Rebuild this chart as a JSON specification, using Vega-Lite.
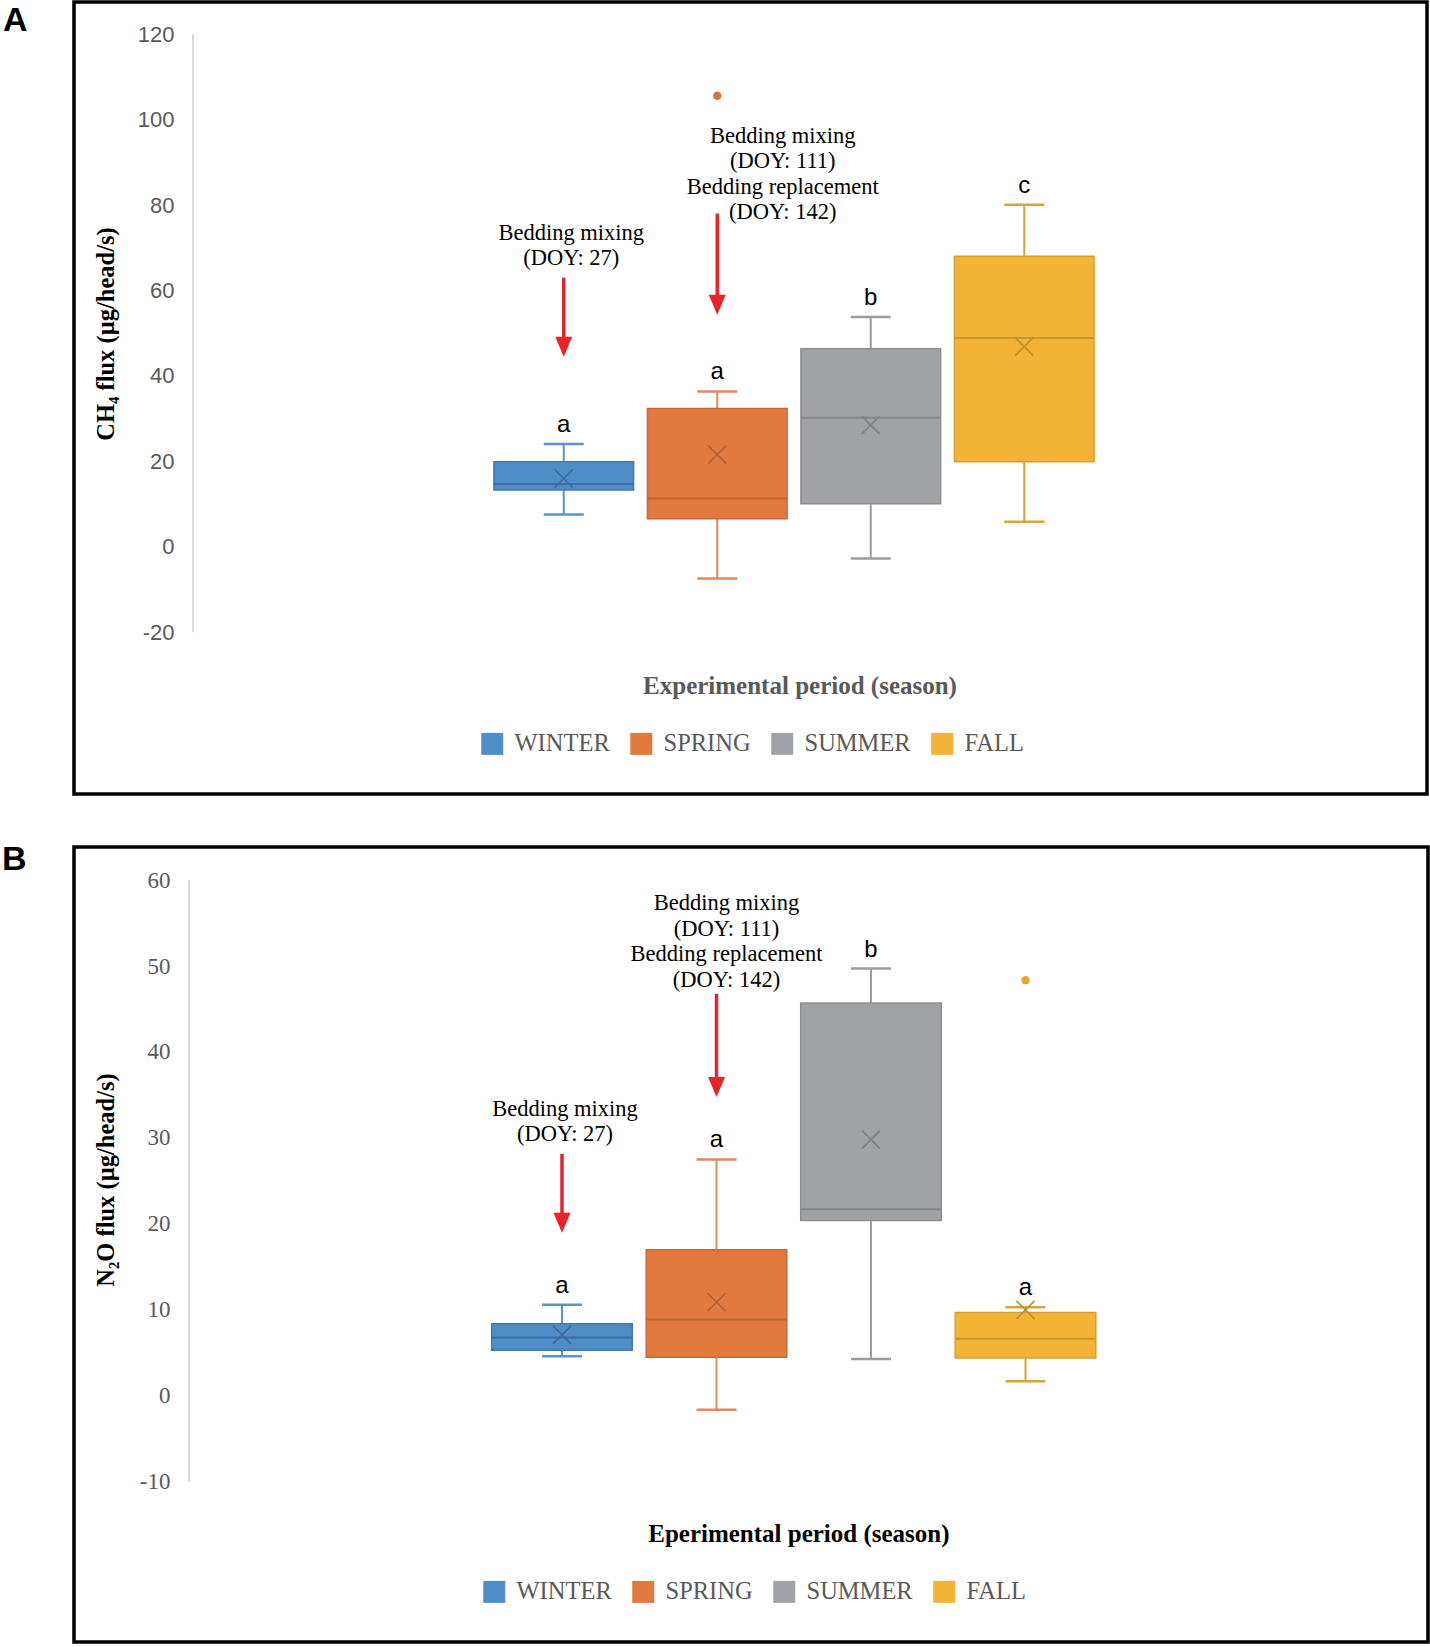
{
  "$schema": "https://vega.github.io/schema/vega-lite/v6.json",
  "background": "white",
  "padding": {"left": 0, "top": 0, "right": 4, "bottom": 0},
  "autosize": {"type": "pad"},
  "spacing": 44,
  "config": {"view": {"stroke": "black", "strokeWidth": 3.5}},
  "resolve": {"scale": {"color": "independent", "fill": "independent", "stroke": "independent"}, "legend": {"color": "independent"}},
  "datasets": {
    "boxA": [
      {"season": "WINTER", "min": 7.6, "q1": 13.3, "median": 14.7, "q3": 19.9, "max": 24.1, "mean": 16.0, "letter": "a"},
      {"season": "SPRING", "min": -7.4, "q1": 6.6, "median": 11.3, "q3": 32.4, "max": 36.4, "mean": 21.6, "letter": "a"},
      {"season": "SUMMER", "min": -2.7, "q1": 10.1, "median": 30.2, "q3": 46.4, "max": 53.8, "mean": 28.5, "letter": "b"},
      {"season": "FALL", "min": 5.9, "q1": 19.9, "median": 48.9, "q3": 68.0, "max": 80.1, "mean": 46.9, "letter": "c"}
    ],
    "outA": [{"season": "SPRING", "value": 105.6}],
    "annA": [
      {"season": "WINTER", "text": "Bedding mixing\n(DOY: 27)", "textY": 73.5, "arrowFrom": 63.0, "arrowTo": 45.45},
      {"season": "SPRING", "text": "Bedding mixing\n(DOY: 111)\nBedding replacement\n(DOY: 142)", "textY": 96.15, "arrowFrom": 78.0, "arrowTo": 55.3}
    ],
    "boxB": [
      {"season": "WINTER", "min": 4.6, "q1": 5.3, "median": 6.8, "q3": 8.4, "max": 10.6, "mean": 7.1, "letter": "a"},
      {"season": "SPRING", "min": -1.6, "q1": 4.5, "median": 8.9, "q3": 17.0, "max": 27.5, "mean": 10.9, "letter": "a"},
      {"season": "SUMMER", "min": 4.3, "q1": 20.4, "median": 21.7, "q3": 45.7, "max": 49.7, "mean": 29.8, "letter": "b"},
      {"season": "FALL", "min": 1.7, "q1": 4.4, "median": 6.65, "q3": 9.7, "max": 10.3, "mean": 10.0, "letter": "a"}
    ],
    "outB": [{"season": "FALL", "value": 48.35}],
    "annB": [
      {"season": "WINTER", "text": "Bedding mixing\n(DOY: 27)", "textY": 33.4, "arrowFrom": 28.15, "arrowTo": 19.44},
      {"season": "SPRING", "text": "Bedding mixing\n(DOY: 111)\nBedding replacement\n(DOY: 142)", "textY": 57.3, "arrowFrom": 46.76, "arrowTo": 35.23}
    ],
    "panelA": [{"panel": "A"}],
    "panelB": [{"panel": "B"}]
  },
  "vconcat": [
    {
      "width": 1353,
      "height": 792,
      "resolve": {"scale": {"x": "independent"}, "axis": {"x": "independent"}},
      "layer": [
        {
          "encoding": {
            "x": {
              "field": "season", "type": "nominal",
              "scale": {"domain": ["WINTER", "SPRING", "SUMMER", "FALL"], "range": [413, 1027], "paddingInner": 0, "paddingOuter": 0},
              "axis": {"title": "Experimental period (season)", "labels": false, "ticks": false, "domain": false, "grid": false, "titleFont": "Liberation Serif", "titleFontSize": 25, "titleFontWeight": "bold", "titleColor": "#595959", "titleX": 725.5, "titleY": -108.5, "titleAlign": "center", "titleBaseline": "middle"}
            }
          },
          "resolve": {"scale": {"fill": "independent", "stroke": "independent"}},
          "layer": [
            {
              "data": {"name": "boxA"},
              "mark": {"type": "rule", "strokeWidth": 2},
              "encoding": {
                "y": {
                  "field": "min", "type": "quantitative",
                  "scale": {"domain": [-57.84, 127.54], "nice": false, "zero": false},
                  "axis": {"values": [-20, 0, 20, 40, 60, 80, 100, 120], "offset": -119, "domain": false, "ticks": false, "grid": false, "labelPadding": 19, "labelFont": "Liberation Sans", "labelFontSize": 22, "labelColor": "#595959", "labelExpr": "'' + datum.value", "labelFlush": false, "labelOverlap": false, "labelBound": false, "title": "CH₄ flux (µg/head/s)", "titleFont": "Liberation Serif", "titleFontWeight": "bold", "titleFontSize": 24.5, "titleColor": "black", "titleAngle": -90, "titleX": -87, "titleY": 331.5, "titleAlign": "center", "titleBaseline": "middle"}
                },
                "y2": {"field": "max"},
                "stroke": {"field": "season", "type": "nominal", "scale": {"domain": ["WINTER", "SPRING", "SUMMER", "FALL"], "range": ["#5B92CB", "#DE8A5E", "#9B9CA0", "#D5A43C"]}, "legend": null}
              }
            },
            {
              "data": {"name": "boxA"},
              "mark": {"type": "bar", "width": {"band": 0.91}, "strokeWidth": 1.5, "opacity": 1},
              "encoding": {
                "y": {"field": "q1", "type": "quantitative", "scale": {"domain": [-57.84, 127.54], "nice": false, "zero": false}},
                "y2": {"field": "q3"},
                "color": {
                  "field": "season", "type": "nominal",
                  "scale": {"domain": ["WINTER", "SPRING", "SUMMER", "FALL"], "range": ["#4E8DC8", "#E2793F", "#A1A2A6", "#F2B336"]},
                  "legend": {"orient": "none", "legendX": 406, "legendY": 729.5, "direction": "horizontal", "title": null, "symbolType": "square", "symbolSize": 484, "symbolStrokeWidth": 0, "labelFont": "Liberation Serif", "labelFontSize": 24.5, "labelColor": "#595959", "labelOffset": 10, "columnPadding": 19}
                },
                "stroke": {"field": "season", "type": "nominal", "scale": {"domain": ["WINTER", "SPRING", "SUMMER", "FALL"], "range": ["#4677AD", "#C86A38", "#8D8E92", "#D8A033"]}, "legend": null}
              }
            },
            {
              "data": {"name": "boxA"},
              "mark": {"type": "tick", "orient": "horizontal", "size": 139, "thickness": 2, "opacity": 1},
              "encoding": {
                "y": {"field": "median", "type": "quantitative", "scale": {"domain": [-57.84, 127.54], "nice": false, "zero": false}},
                "fill": {"field": "season", "type": "nominal", "scale": {"domain": ["WINTER", "SPRING", "SUMMER", "FALL"], "range": ["#3F6CA0", "#BC6434", "#86878B", "#C99731"]}, "legend": null}
              }
            },
            {
              "data": {"name": "boxA"},
              "mark": {"type": "tick", "orient": "horizontal", "size": 40, "thickness": 2.5, "opacity": 1},
              "encoding": {
                "y": {"field": "max", "type": "quantitative", "scale": {"domain": [-57.84, 127.54], "nice": false, "zero": false}},
                "fill": {"field": "season", "type": "nominal", "scale": {"domain": ["WINTER", "SPRING", "SUMMER", "FALL"], "range": ["#5B92CB", "#DE8A5E", "#9B9CA0", "#D5A43C"]}, "legend": null}
              }
            },
            {
              "data": {"name": "boxA"},
              "mark": {"type": "tick", "orient": "horizontal", "size": 40, "thickness": 2.5, "opacity": 1},
              "encoding": {
                "y": {"field": "min", "type": "quantitative", "scale": {"domain": [-57.84, 127.54], "nice": false, "zero": false}},
                "fill": {"field": "season", "type": "nominal", "scale": {"domain": ["WINTER", "SPRING", "SUMMER", "FALL"], "range": ["#5B92CB", "#DE8A5E", "#9B9CA0", "#D5A43C"]}, "legend": null}
              }
            },
            {
              "data": {"name": "boxA"},
              "mark": {"type": "point", "shape": "M-1,-1L1,1M1,-1L-1,1", "size": 324, "strokeWidth": 1.6, "filled": false, "opacity": 1},
              "encoding": {
                "y": {"field": "mean", "type": "quantitative", "scale": {"domain": [-57.84, 127.54], "nice": false, "zero": false}},
                "stroke": {"field": "season", "type": "nominal", "scale": {"domain": ["WINTER", "SPRING", "SUMMER", "FALL"], "range": ["#3E6A9C", "#B2623A", "#7F8084", "#B98F2E"]}, "legend": null}
              }
            },
            {
              "data": {"name": "outA"},
              "mark": {"type": "point", "shape": "circle", "size": 70, "filled": true, "opacity": 1, "strokeWidth": 0},
              "encoding": {
                "y": {"field": "value", "type": "quantitative", "scale": {"domain": [-57.84, 127.54], "nice": false, "zero": false}},
                "fill": {"field": "season", "type": "nominal", "scale": {"domain": ["WINTER", "SPRING", "SUMMER", "FALL"], "range": ["#4E8DC8", "#D8743F", "#9FA0A4", "#E5A62D"]}, "legend": null}
              }
            },
            {
              "data": {"name": "boxA"},
              "mark": {"type": "text", "baseline": "alphabetic", "dy": -12, "font": "Liberation Sans", "fontSize": 24, "color": "black"},
              "encoding": {
                "y": {"field": "max", "type": "quantitative", "scale": {"domain": [-57.84, 127.54], "nice": false, "zero": false}},
                "text": {"field": "letter"}
              }
            },
            {
              "data": {"name": "annA"},
              "transform": [{"filter": "datum.season === 'WINTER'"}],
              "mark": {"type": "text", "lineBreak": "\n", "dx": 7.5, "baseline": "middle", "font": "Liberation Serif", "fontSize": 22.5, "lineHeight": 25.3, "color": "black"},
              "encoding": {
                "y": {"field": "textY", "type": "quantitative", "scale": {"domain": [-57.84, 127.54], "nice": false, "zero": false}},
                "text": {"field": "text"}
              }
            },
            {
              "data": {"name": "annA"},
              "transform": [{"filter": "datum.season === 'SPRING'"}],
              "mark": {"type": "text", "lineBreak": "\n", "dx": 65.5, "baseline": "middle", "font": "Liberation Serif", "fontSize": 22.5, "lineHeight": 25.3, "color": "black"},
              "encoding": {
                "y": {"field": "textY", "type": "quantitative", "scale": {"domain": [-57.84, 127.54], "nice": false, "zero": false}},
                "text": {"field": "text"}
              }
            },
            {
              "data": {"name": "annA"},
              "mark": {"type": "rule", "color": "#E8232A", "strokeWidth": 3.5},
              "encoding": {
                "y": {"field": "arrowFrom", "type": "quantitative", "scale": {"domain": [-57.84, 127.54], "nice": false, "zero": false}},
                "y2": {"field": "arrowTo"}
              }
            },
            {
              "data": {"name": "annA"},
              "mark": {"type": "point", "shape": "M0,0.4L-0.85,-1.6L0.85,-1.6Z", "size": 400, "filled": true, "color": "#E8232A", "opacity": 1, "strokeWidth": 0},
              "encoding": {
                "y": {"field": "arrowTo", "type": "quantitative", "scale": {"domain": [-57.84, 127.54], "nice": false, "zero": false}}
              }
            }
          ]
        },
        {
          "data": {"name": "panelA"},
          "layer": [
            {
              "mark": {"type": "rule", "color": "#D9D9D9", "strokeWidth": 2},
              "encoding": {
                "x": {"datum": 0, "type": "quantitative", "scale": {"domain": [-119, 1234], "nice": false, "zero": false}, "axis": null},
                "y": {"datum": -20, "type": "quantitative", "scale": {"domain": [-57.84, 127.54], "nice": false, "zero": false}},
                "y2": {"datum": 120}
              }
            },
            {
              "mark": {"type": "text", "text": "A", "align": "left", "baseline": "alphabetic", "dx": -190, "dy": -3.2, "font": "Liberation Sans Narrow, Liberation Sans", "fontWeight": "bold", "fontSize": 34, "color": "black"},
              "encoding": {
                "x": {"datum": 0, "type": "quantitative", "scale": {"domain": [-119, 1234], "nice": false, "zero": false}, "axis": null},
                "y": {"datum": 120, "type": "quantitative", "scale": {"domain": [-57.84, 127.54], "nice": false, "zero": false}}
              }
            }
          ]
        }
      ]
    },
    {
      "width": 1354,
      "height": 795,
      "resolve": {"scale": {"x": "independent"}, "axis": {"x": "independent"}},
      "layer": [
        {
          "encoding": {
            "x": {
              "field": "season", "type": "nominal",
              "scale": {"domain": ["WINTER", "SPRING", "SUMMER", "FALL"], "range": [410.75, 1028.75], "paddingInner": 0, "paddingOuter": 0},
              "axis": {"title": "Eperimental period (season)", "labels": false, "ticks": false, "domain": false, "grid": false, "titleFont": "Liberation Serif", "titleFontSize": 25, "titleFontWeight": "bold", "titleColor": "black", "titleX": 724.4, "titleY": -108.5, "titleAlign": "center", "titleBaseline": "middle"}
            }
          },
          "resolve": {"scale": {"fill": "independent", "stroke": "independent"}},
          "layer": [
            {
              "data": {"name": "boxB"},
              "mark": {"type": "rule", "strokeWidth": 2},
              "encoding": {
                "y": {
                  "field": "min", "type": "quantitative",
                  "scale": {"domain": [-28.62, 63.84], "nice": false, "zero": false},
                  "axis": {"values": [-10, 0, 10, 20, 30, 40, 50, 60], "offset": -115, "domain": false, "ticks": false, "grid": false, "labelPadding": 19, "labelFont": "Liberation Serif", "labelFontSize": 23, "labelColor": "#595959", "labelExpr": "'' + datum.value", "labelFlush": false, "labelOverlap": false, "labelBound": false, "title": "N₂O flux (µg/head/s)", "titleFont": "Liberation Serif", "titleFontWeight": "bold", "titleFontSize": 24.5, "titleColor": "black", "titleAngle": -90, "titleX": -83, "titleY": 332.5, "titleAlign": "center", "titleBaseline": "middle"}
                },
                "y2": {"field": "max"},
                "stroke": {"field": "season", "type": "nominal", "scale": {"domain": ["WINTER", "SPRING", "SUMMER", "FALL"], "range": ["#5B92CB", "#DE8A5E", "#9B9CA0", "#D5A43C"]}, "legend": null}
              }
            },
            {
              "data": {"name": "boxB"},
              "mark": {"type": "bar", "width": {"band": 0.91}, "strokeWidth": 1.5, "opacity": 1},
              "encoding": {
                "y": {"field": "q1", "type": "quantitative", "scale": {"domain": [-28.62, 63.84], "nice": false, "zero": false}},
                "y2": {"field": "q3"},
                "color": {
                  "field": "season", "type": "nominal",
                  "scale": {"domain": ["WINTER", "SPRING", "SUMMER", "FALL"], "range": ["#4E8DC8", "#E2793F", "#A1A2A6", "#F2B336"]},
                  "legend": {"orient": "none", "legendX": 408, "legendY": 732.5, "direction": "horizontal", "title": null, "symbolType": "square", "symbolSize": 484, "symbolStrokeWidth": 0, "labelFont": "Liberation Serif", "labelFontSize": 24.5, "labelColor": "#595959", "labelOffset": 10, "columnPadding": 19}
                },
                "stroke": {"field": "season", "type": "nominal", "scale": {"domain": ["WINTER", "SPRING", "SUMMER", "FALL"], "range": ["#4677AD", "#C86A38", "#8D8E92", "#D8A033"]}, "legend": null}
              }
            },
            {
              "data": {"name": "boxB"},
              "mark": {"type": "tick", "orient": "horizontal", "size": 140, "thickness": 2, "opacity": 1},
              "encoding": {
                "y": {"field": "median", "type": "quantitative", "scale": {"domain": [-28.62, 63.84], "nice": false, "zero": false}},
                "fill": {"field": "season", "type": "nominal", "scale": {"domain": ["WINTER", "SPRING", "SUMMER", "FALL"], "range": ["#3F6CA0", "#BC6434", "#86878B", "#C99731"]}, "legend": null}
              }
            },
            {
              "data": {"name": "boxB"},
              "mark": {"type": "tick", "orient": "horizontal", "size": 40, "thickness": 2.5, "opacity": 1},
              "encoding": {
                "y": {"field": "max", "type": "quantitative", "scale": {"domain": [-28.62, 63.84], "nice": false, "zero": false}},
                "fill": {"field": "season", "type": "nominal", "scale": {"domain": ["WINTER", "SPRING", "SUMMER", "FALL"], "range": ["#5B92CB", "#DE8A5E", "#9B9CA0", "#D5A43C"]}, "legend": null}
              }
            },
            {
              "data": {"name": "boxB"},
              "mark": {"type": "tick", "orient": "horizontal", "size": 40, "thickness": 2.5, "opacity": 1},
              "encoding": {
                "y": {"field": "min", "type": "quantitative", "scale": {"domain": [-28.62, 63.84], "nice": false, "zero": false}},
                "fill": {"field": "season", "type": "nominal", "scale": {"domain": ["WINTER", "SPRING", "SUMMER", "FALL"], "range": ["#5B92CB", "#DE8A5E", "#9B9CA0", "#D5A43C"]}, "legend": null}
              }
            },
            {
              "data": {"name": "boxB"},
              "mark": {"type": "point", "shape": "M-1,-1L1,1M1,-1L-1,1", "size": 324, "strokeWidth": 1.6, "filled": false, "opacity": 1},
              "encoding": {
                "y": {"field": "mean", "type": "quantitative", "scale": {"domain": [-28.62, 63.84], "nice": false, "zero": false}},
                "stroke": {"field": "season", "type": "nominal", "scale": {"domain": ["WINTER", "SPRING", "SUMMER", "FALL"], "range": ["#3E6A9C", "#B2623A", "#7F8084", "#B98F2E"]}, "legend": null}
              }
            },
            {
              "data": {"name": "outB"},
              "mark": {"type": "point", "shape": "circle", "size": 70, "filled": true, "opacity": 1, "strokeWidth": 0},
              "encoding": {
                "y": {"field": "value", "type": "quantitative", "scale": {"domain": [-28.62, 63.84], "nice": false, "zero": false}},
                "fill": {"field": "season", "type": "nominal", "scale": {"domain": ["WINTER", "SPRING", "SUMMER", "FALL"], "range": ["#4E8DC8", "#D8743F", "#9FA0A4", "#E5A62D"]}, "legend": null}
              }
            },
            {
              "data": {"name": "boxB"},
              "mark": {"type": "text", "baseline": "alphabetic", "dy": -12, "font": "Liberation Sans", "fontSize": 24, "color": "black"},
              "encoding": {
                "y": {"field": "max", "type": "quantitative", "scale": {"domain": [-28.62, 63.84], "nice": false, "zero": false}},
                "text": {"field": "letter"}
              }
            },
            {
              "data": {"name": "annB"},
              "transform": [{"filter": "datum.season === 'WINTER'"}],
              "mark": {"type": "text", "lineBreak": "\n", "dx": 3, "baseline": "middle", "font": "Liberation Serif", "fontSize": 22.5, "lineHeight": 25.6, "color": "black"},
              "encoding": {
                "y": {"field": "textY", "type": "quantitative", "scale": {"domain": [-28.62, 63.84], "nice": false, "zero": false}},
                "text": {"field": "text"}
              }
            },
            {
              "data": {"name": "annB"},
              "transform": [{"filter": "datum.season === 'SPRING'"}],
              "mark": {"type": "text", "lineBreak": "\n", "dx": 10, "baseline": "middle", "font": "Liberation Serif", "fontSize": 22.5, "lineHeight": 25.6, "color": "black"},
              "encoding": {
                "y": {"field": "textY", "type": "quantitative", "scale": {"domain": [-28.62, 63.84], "nice": false, "zero": false}},
                "text": {"field": "text"}
              }
            },
            {
              "data": {"name": "annB"},
              "mark": {"type": "rule", "color": "#E8232A", "strokeWidth": 3.5},
              "encoding": {
                "y": {"field": "arrowFrom", "type": "quantitative", "scale": {"domain": [-28.62, 63.84], "nice": false, "zero": false}},
                "y2": {"field": "arrowTo"}
              }
            },
            {
              "data": {"name": "annB"},
              "mark": {"type": "point", "shape": "M0,0.4L-0.85,-1.6L0.85,-1.6Z", "size": 400, "filled": true, "color": "#E8232A", "opacity": 1, "strokeWidth": 0},
              "encoding": {
                "y": {"field": "arrowTo", "type": "quantitative", "scale": {"domain": [-28.62, 63.84], "nice": false, "zero": false}}
              }
            }
          ]
        },
        {
          "data": {"name": "panelB"},
          "layer": [
            {
              "mark": {"type": "rule", "color": "#D9D9D9", "strokeWidth": 2},
              "encoding": {
                "x": {"datum": 0, "type": "quantitative", "scale": {"domain": [-115, 1239], "nice": false, "zero": false}, "axis": null},
                "y": {"datum": -10, "type": "quantitative", "scale": {"domain": [-28.62, 63.84], "nice": false, "zero": false}},
                "y2": {"datum": 60}
              }
            },
            {
              "mark": {"type": "text", "text": "B", "align": "left", "baseline": "alphabetic", "dx": -187, "dy": -10.5, "font": "Liberation Sans Narrow, Liberation Sans", "fontWeight": "bold", "fontSize": 34, "color": "black"},
              "encoding": {
                "x": {"datum": 0, "type": "quantitative", "scale": {"domain": [-115, 1239], "nice": false, "zero": false}, "axis": null},
                "y": {"datum": 60, "type": "quantitative", "scale": {"domain": [-28.62, 63.84], "nice": false, "zero": false}}
              }
            }
          ]
        }
      ]
    }
  ]
}
